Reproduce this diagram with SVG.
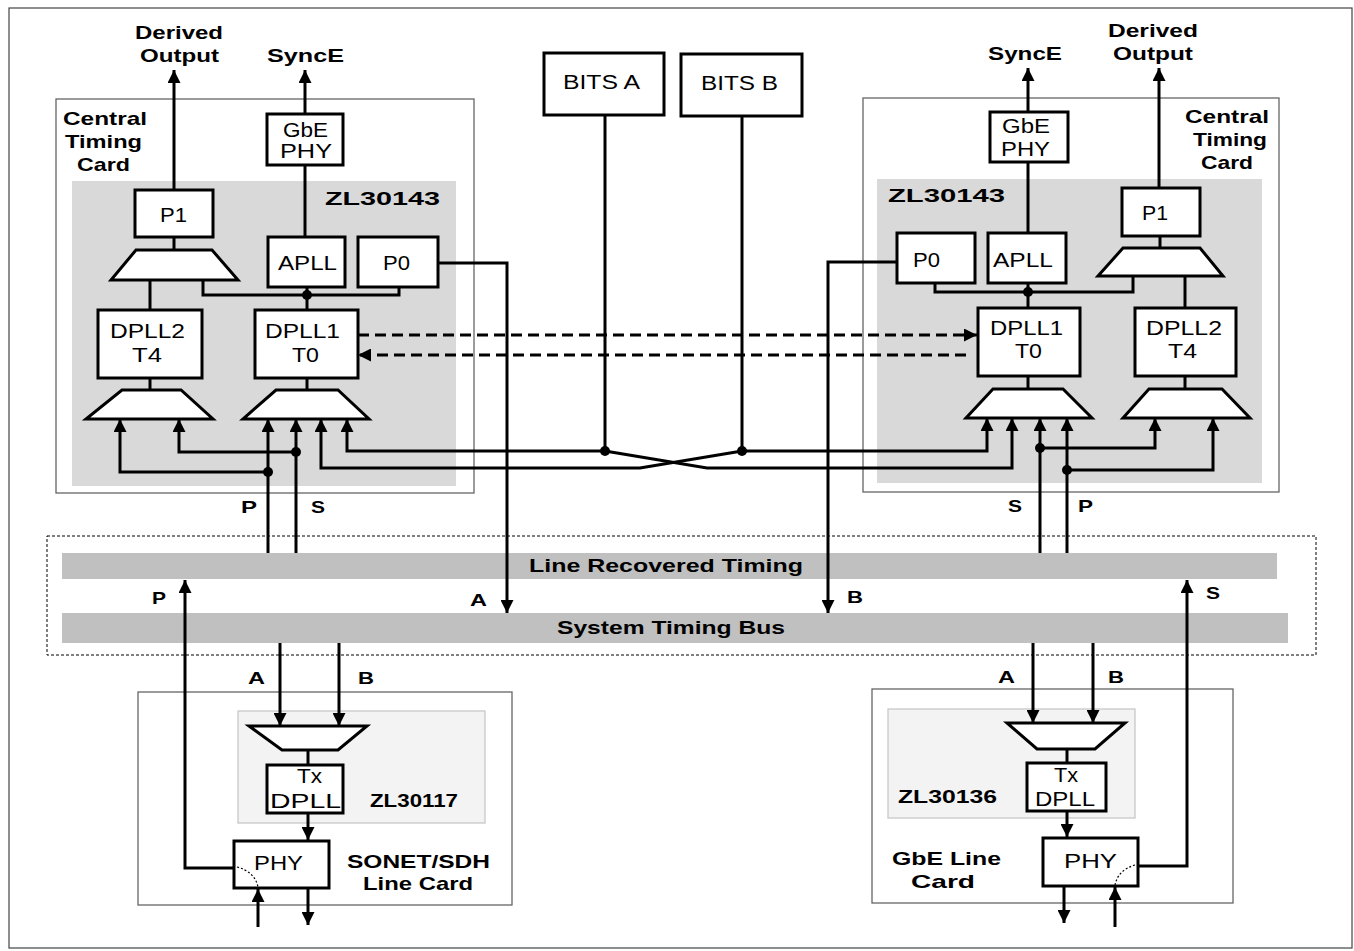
<svg xmlns="http://www.w3.org/2000/svg" width="1354" height="951" viewBox="0 0 1354 951">
<style>
.box{fill:#fff;stroke:#000;stroke-width:3}
.mux{fill:#fff;stroke:#000;stroke-width:3;stroke-linejoin:miter}
.card{fill:#fff;stroke:#666;stroke-width:1.3}
.chip{fill:#d9d9d9}
.lchip{fill:#f3f3f3;stroke:#c8c8c8;stroke-width:1.3}
.bus{fill:#c0c0c0}
.frame{fill:none;stroke:#000;stroke-width:1;stroke-dasharray:3 2}
.border{fill:none;stroke:#444;stroke-width:1.2}
.w{fill:none;stroke:#000;stroke-width:3}
.dash{fill:none;stroke:#000;stroke-width:3;stroke-dasharray:11 6}
.dot{fill:#000}
.arc{fill:none;stroke:#000;stroke-width:1.2;stroke-dasharray:2 2}
text{font-family:"Liberation Sans",Arial,sans-serif;fill:#000}
.n{font-size:20.5px}
.b{font-size:19px;font-weight:bold}
.s{font-size:17px;font-weight:bold}
</style>
<defs>
<marker id="ah" viewBox="0 0 13 13" refX="13" refY="6.5" markerWidth="13" markerHeight="13" markerUnits="userSpaceOnUse" orient="auto">
<path d="M0,0 L13,6.5 L0,13 z" fill="#000"/>
</marker>
</defs>
<rect width="1354" height="951" fill="#fff"/>
<rect class="border" x="9" y="8" width="1343" height="940"/>

<g id="left-central-card">
<rect class="card" x="56" y="99" width="418" height="394"/>
<rect class="chip" x="72" y="181" width="384" height="305"/>
<text class="b" x="63" y="125" textLength="84" lengthAdjust="spacingAndGlyphs">Central</text>
<text class="b" x="65" y="148" textLength="77" lengthAdjust="spacingAndGlyphs">Timing</text>
<text class="b" x="77" y="171" textLength="53" lengthAdjust="spacingAndGlyphs">Card</text>
<text class="b" x="325" y="205" textLength="115" lengthAdjust="spacingAndGlyphs">ZL30143</text>
</g>
<g id="left-gbe-phy"><rect class="box" x="267" y="114" width="76" height="51"/>
<text class="n" x="283" y="137" textLength="45" lengthAdjust="spacingAndGlyphs">GbE</text>
<text class="n" x="280" y="158" textLength="52" lengthAdjust="spacingAndGlyphs">PHY</text></g>
<g id="left-p1"><rect class="box" x="135" y="190" width="78" height="47"/>
<text class="n" x="160" y="222" textLength="27" lengthAdjust="spacingAndGlyphs">P1</text></g>
<g id="left-p1-mux"><polygon class="mux" points="136,250 212,250 238,280 111,280"/></g>
<g id="left-apll"><rect class="box" x="268" y="237" width="77" height="50"/>
<text class="n" x="278" y="270" textLength="59" lengthAdjust="spacingAndGlyphs">APLL</text></g>
<g id="left-p0"><rect class="box" x="358" y="237" width="80" height="50"/>
<text class="n" x="383" y="270" textLength="27" lengthAdjust="spacingAndGlyphs">P0</text></g>
<g id="left-dpll2"><rect class="box" x="98" y="310" width="104" height="68"/>
<text class="n" x="110" y="338" textLength="75" lengthAdjust="spacingAndGlyphs">DPLL2</text>
<text class="n" x="132" y="362" textLength="30" lengthAdjust="spacingAndGlyphs">T4</text></g>
<g id="left-dpll1"><rect class="box" x="255" y="310" width="103" height="68"/>
<text class="n" x="265" y="338" textLength="75" lengthAdjust="spacingAndGlyphs">DPLL1</text>
<text class="n" x="292" y="362" textLength="27" lengthAdjust="spacingAndGlyphs">T0</text></g>
<g id="left-dpll2-mux"><polygon class="mux" points="122,390 181,390 213,419 86,419"/></g>
<g id="left-dpll1-mux"><polygon class="mux" points="276,390 338,390 369,419 243,419"/></g>

<g id="right-central-card">
<rect class="card" x="863" y="98" width="416" height="394"/>
<rect class="chip" x="877" y="179" width="385" height="304"/>
<text class="b" x="1185" y="123" textLength="84" lengthAdjust="spacingAndGlyphs">Central</text>
<text class="b" x="1193" y="146" textLength="74" lengthAdjust="spacingAndGlyphs">Timing</text>
<text class="b" x="1201" y="169" textLength="52" lengthAdjust="spacingAndGlyphs">Card</text>
<text class="b" x="888" y="202" textLength="117" lengthAdjust="spacingAndGlyphs">ZL30143</text>
</g>
<g id="right-gbe-phy"><rect class="box" x="990" y="112" width="78" height="50"/>
<text class="n" x="1002" y="133" textLength="48" lengthAdjust="spacingAndGlyphs">GbE</text>
<text class="n" x="1001" y="156" textLength="49" lengthAdjust="spacingAndGlyphs">PHY</text></g>
<g id="right-p1"><rect class="box" x="1122" y="188" width="78" height="48"/>
<text class="n" x="1142" y="220" textLength="26" lengthAdjust="spacingAndGlyphs">P1</text></g>
<g id="right-p1-mux"><polygon class="mux" points="1123,248 1200,248 1223,276 1098,276"/></g>
<g id="right-p0"><rect class="box" x="897" y="233" width="78" height="50"/>
<text class="n" x="913" y="267" textLength="27" lengthAdjust="spacingAndGlyphs">P0</text></g>
<g id="right-apll"><rect class="box" x="988" y="233" width="78" height="50"/>
<text class="n" x="993" y="267" textLength="60" lengthAdjust="spacingAndGlyphs">APLL</text></g>
<g id="right-dpll1"><rect class="box" x="978" y="308" width="102" height="68"/>
<text class="n" x="990" y="335" textLength="73" lengthAdjust="spacingAndGlyphs">DPLL1</text>
<text class="n" x="1015" y="358" textLength="27" lengthAdjust="spacingAndGlyphs">T0</text></g>
<g id="right-dpll2"><rect class="box" x="1135" y="308" width="101" height="68"/>
<text class="n" x="1146" y="335" textLength="76" lengthAdjust="spacingAndGlyphs">DPLL2</text>
<text class="n" x="1168" y="358" textLength="29" lengthAdjust="spacingAndGlyphs">T4</text></g>
<g id="right-dpll1-mux"><polygon class="mux" points="993,389 1063,389 1092,418 966,418"/></g>
<g id="right-dpll2-mux"><polygon class="mux" points="1149,389 1222,389 1250,418 1123,418"/></g>

<g id="bits-a"><rect class="box" x="544" y="53" width="120" height="62"/>
<text class="n" x="563" y="89" textLength="77" lengthAdjust="spacingAndGlyphs">BITS A</text></g>
<g id="bits-b"><rect class="box" x="681" y="54" width="121" height="62"/>
<text class="n" x="701" y="90" textLength="77" lengthAdjust="spacingAndGlyphs">BITS B</text></g>

<g id="backplane">
<rect class="frame" x="47" y="536" width="1269" height="119"/>
<rect class="bus" x="62" y="553" width="1215" height="26"/>
<rect class="bus" x="62" y="613" width="1226" height="30"/>
<text class="b" x="529" y="572" textLength="274" lengthAdjust="spacingAndGlyphs">Line Recovered Timing</text>
<text class="b" x="557" y="634" textLength="228" lengthAdjust="spacingAndGlyphs">System Timing Bus</text>
</g>

<g id="left-line-card">
<rect class="card" x="138" y="692" width="374" height="213"/>
<rect class="lchip" x="238" y="711" width="247" height="112"/>
<text class="b" x="370" y="807" textLength="88" lengthAdjust="spacingAndGlyphs">ZL30117</text>
<text class="b" x="347" y="868" textLength="143" lengthAdjust="spacingAndGlyphs">SONET/SDH</text>
<text class="b" x="363" y="890" textLength="110" lengthAdjust="spacingAndGlyphs">Line Card</text>
</g>
<g id="left-lc-mux"><polygon class="mux" points="249,726 367,726 338,750 282,750"/></g>
<g id="left-tx-dpll"><rect class="box" x="267" y="765" width="76" height="48"/>
<text class="n" x="297" y="783" textLength="25" lengthAdjust="spacingAndGlyphs">Tx</text>
<text class="n" x="270" y="808" textLength="71" lengthAdjust="spacingAndGlyphs">DPLL</text></g>
<g id="left-phy"><rect class="box" x="234" y="841" width="95" height="47"/>
<text class="n" x="254" y="870" textLength="49" lengthAdjust="spacingAndGlyphs">PHY</text>
<path class="arc" d="M237,867 Q255,872 258,887"/></g>

<g id="right-line-card">
<rect class="card" x="872" y="689" width="361" height="214"/>
<rect class="lchip" x="888" y="709" width="247" height="109"/>
<text class="b" x="898" y="803" textLength="99" lengthAdjust="spacingAndGlyphs">ZL30136</text>
<text class="b" x="892" y="865" textLength="109" lengthAdjust="spacingAndGlyphs">GbE Line</text>
<text class="b" x="911" y="888" textLength="64" lengthAdjust="spacingAndGlyphs">Card</text>
</g>
<g id="right-lc-mux"><polygon class="mux" points="1007,723 1125,723 1095,749 1037,749"/></g>
<g id="right-tx-dpll"><rect class="box" x="1027" y="763" width="79" height="48"/>
<text class="n" x="1054" y="782" textLength="24" lengthAdjust="spacingAndGlyphs">Tx</text>
<text class="n" x="1035" y="806" textLength="60" lengthAdjust="spacingAndGlyphs">DPLL</text></g>
<g id="right-phy"><rect class="box" x="1043" y="838" width="95" height="48"/>
<text class="n" x="1064" y="868" textLength="53" lengthAdjust="spacingAndGlyphs">PHY</text>
<path class="arc" d="M1135,865 Q1118,870 1115,885"/></g>

<g id="labels">
<text class="b" x="135" y="39" textLength="88" lengthAdjust="spacingAndGlyphs">Derived</text>
<text class="b" x="140" y="62" textLength="79" lengthAdjust="spacingAndGlyphs">Output</text>
<text class="b" x="267" y="62" textLength="77" lengthAdjust="spacingAndGlyphs">SyncE</text>
<text class="b" x="988" y="60" textLength="74" lengthAdjust="spacingAndGlyphs">SyncE</text>
<text class="b" x="1108" y="37" textLength="90" lengthAdjust="spacingAndGlyphs">Derived</text>
<text class="b" x="1113" y="60" textLength="80" lengthAdjust="spacingAndGlyphs">Output</text>
<text class="s" x="241" y="513" textLength="16" lengthAdjust="spacingAndGlyphs">P</text>
<text class="s" x="311" y="513" textLength="14" lengthAdjust="spacingAndGlyphs">S</text>
<text class="s" x="1008" y="512" textLength="14" lengthAdjust="spacingAndGlyphs">S</text>
<text class="s" x="1078" y="512" textLength="15" lengthAdjust="spacingAndGlyphs">P</text>
<text class="s" x="152" y="604" textLength="14" lengthAdjust="spacingAndGlyphs">P</text>
<text class="s" x="470" y="606" textLength="17" lengthAdjust="spacingAndGlyphs">A</text>
<text class="s" x="847" y="603" textLength="16" lengthAdjust="spacingAndGlyphs">B</text>
<text class="s" x="1206" y="599" textLength="14" lengthAdjust="spacingAndGlyphs">S</text>
<text class="s" x="248" y="684" textLength="17" lengthAdjust="spacingAndGlyphs">A</text>
<text class="s" x="358" y="684" textLength="16" lengthAdjust="spacingAndGlyphs">B</text>
<text class="s" x="998" y="683" textLength="17" lengthAdjust="spacingAndGlyphs">A</text>
<text class="s" x="1108" y="683" textLength="16" lengthAdjust="spacingAndGlyphs">B</text>
</g>

<g id="connectors">
<path class="w" d="M174,190 V70" marker-end="url(#ah)"/>
<path class="w" d="M305,114 V70" marker-end="url(#ah)"/>
<path class="w" d="M305,165 V237"/>
<path class="w" d="M174,237 V250"/>
<path class="w" d="M150,280 V310"/>
<path class="w" d="M203,280 V295 H399 V287"/>
<path class="w" d="M307,287 V310"/>
<path class="w" d="M438,263 H507 V613" marker-end="url(#ah)"/>
<path class="w" d="M150,378 V390"/>
<path class="w" d="M307,378 V390"/>
<path class="w" d="M268,553 V419" marker-end="url(#ah)"/>
<path class="w" d="M296,553 V419" marker-end="url(#ah)"/>
<path class="w" d="M268,472 H120 V419" marker-end="url(#ah)"/>
<path class="w" d="M296,452 H179 V419" marker-end="url(#ah)"/>
<path class="w" d="M605,115 V451 H347 V419" marker-end="url(#ah)"/>
<path class="w" d="M605,451 L707,468 H1012 V418" marker-end="url(#ah)"/>
<path class="w" d="M742,116 V451 H987 V418" marker-end="url(#ah)"/>
<path class="w" d="M742,451 L640,468 H321 V419" marker-end="url(#ah)"/>
<path class="dash" d="M358,335 H977" marker-end="url(#ah)"/>
<path class="dash" d="M966,355 H358" marker-end="url(#ah)"/>

<path class="w" d="M1028,112 V68" marker-end="url(#ah)"/>
<path class="w" d="M1159,188 V68" marker-end="url(#ah)"/>
<path class="w" d="M1028,162 V233"/>
<path class="w" d="M1160,236 V248"/>
<path class="w" d="M935,283 V292 H1133 V276"/>
<path class="w" d="M1028,283 V308"/>
<path class="w" d="M1185,276 V308"/>
<path class="w" d="M897,262 H828 V613" marker-end="url(#ah)"/>
<path class="w" d="M1028,376 V389"/>
<path class="w" d="M1185,376 V389"/>
<path class="w" d="M1040,553 V418" marker-end="url(#ah)"/>
<path class="w" d="M1067,553 V418" marker-end="url(#ah)"/>
<path class="w" d="M1040,448 H1155 V418" marker-end="url(#ah)"/>
<path class="w" d="M1067,470 H1213 V418" marker-end="url(#ah)"/>

<path class="w" d="M234,868 H185 V580" marker-end="url(#ah)"/>
<path class="w" d="M1138,866 H1187 V580" marker-end="url(#ah)"/>
<path class="w" d="M280,643 V726" marker-end="url(#ah)"/>
<path class="w" d="M339,643 V726" marker-end="url(#ah)"/>
<path class="w" d="M1033,643 V723" marker-end="url(#ah)"/>
<path class="w" d="M1093,643 V723" marker-end="url(#ah)"/>
<path class="w" d="M308,750 V765"/>
<path class="w" d="M308,813 V840" marker-end="url(#ah)"/>
<path class="w" d="M1067,749 V763"/>
<path class="w" d="M1067,811 V837" marker-end="url(#ah)"/>
<path class="w" d="M258,927 V889" marker-end="url(#ah)"/>
<path class="w" d="M308,888 V925" marker-end="url(#ah)"/>
<path class="w" d="M1064,886 V923" marker-end="url(#ah)"/>
<path class="w" d="M1115,927 V887" marker-end="url(#ah)"/>

<circle class="dot" cx="307" cy="295" r="5"/>
<circle class="dot" cx="268" cy="472" r="5"/>
<circle class="dot" cx="296" cy="452" r="5"/>
<circle class="dot" cx="605" cy="451" r="5"/>
<circle class="dot" cx="742" cy="451" r="5"/>
<circle class="dot" cx="1028" cy="292" r="5"/>
<circle class="dot" cx="1040" cy="448" r="5"/>
<circle class="dot" cx="1067" cy="470" r="5"/>
</g>
</svg>
